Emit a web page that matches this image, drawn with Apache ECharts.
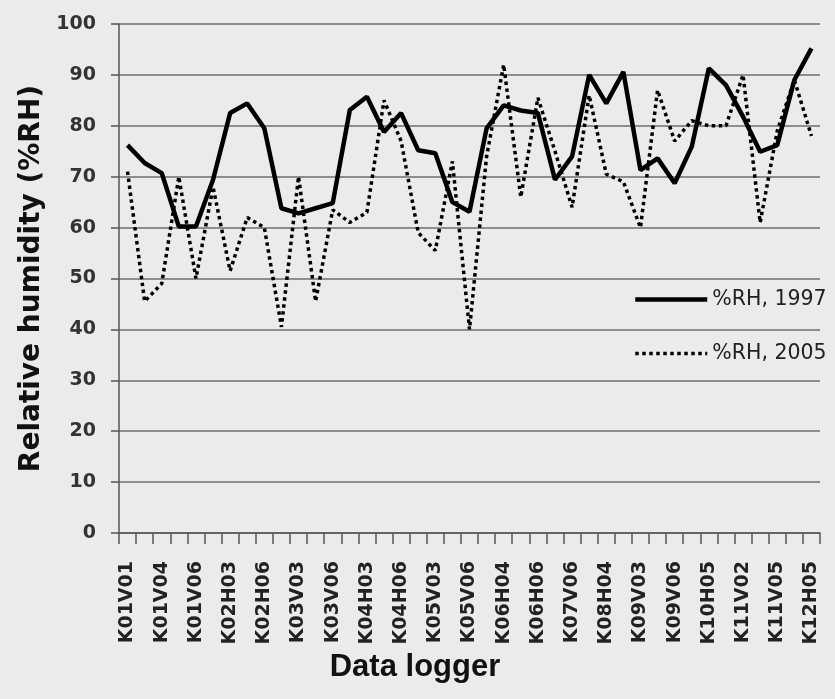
<!DOCTYPE html>
<html>
<head>
<meta charset="utf-8">
<script src="https://cdn.jsdelivr.net/npm/echarts@6/dist/echarts.min.js"></script>
<style>
  html, body { margin: 0; padding: 0; background: #ebebeb; }
  #chart { width: 835px; height: 699px; }
</style>
</head>
<body>
<div id="chart"></div>
<script>
// Data loggers (every second one is labelled on the axis)
const categories = [
  'K01V01','K01V03','K01V04','K01V05','K01V06','K02H01','K02H03','K02H04','K02H06','K03V01',
  'K03V03','K03V05','K03V06','K04H01','K04H03','K04H04','K04H06','K05V01','K05V03','K05V04',
  'K05V06','K06H01','K06H04','K06H05','K06H06','K07V03','K07V06','K08H01','K08H04','K09V01',
  'K09V03','K09V05','K09V06','K10H01','K10H05','K10H06','K11V02','K11V04','K11V05','K12H02',
  'K12H05'
];
const rh1997 = [
  76.2, 72.7, 70.7, 60.2, 60.2, 69.4, 82.5, 84.4, 79.5, 63.8,
  62.8, 63.8, 64.8, 83.1, 85.7, 78.8, 82.5, 75.2, 74.6, 65.0,
  63.1, 79.5, 84.0, 83.0, 82.5, 69.4, 74.0, 90.0, 84.4, 90.6,
  71.3, 73.6, 68.7, 75.9, 91.3, 88.0, 81.8, 74.9, 76.2, 89.0,
  95.2
];
const rh2005 = [
  71.0, 45.5, 49.0, 70.0, 50.0, 68.0, 51.5, 62.0, 60.0, 40.5,
  70.0, 45.5, 63.5, 61.0, 63.0, 85.0, 77.0, 59.0, 55.5, 73.0,
  40.0, 74.0, 92.0, 66.0, 85.5, 75.0, 64.0, 86.0, 70.5, 69.0,
  60.0, 87.0, 77.0, 81.0, 80.0, 80.0, 90.0, 61.0, 79.0, 89.0,
  78.0
];
const yTicks = { min: 0, max: 100, interval: 10 };
const seriesNames = ['%RH, 1997', '%RH, 2005'];

const chart = echarts.init(document.getElementById('chart'), null, { renderer: 'canvas' });
chart.setOption({
  backgroundColor: '#ebebeb',
  animation: false,
  grid: { left: 119, right: 15, top: 24, bottom: 166, containLabel: false },
  legend: {
    orient: 'vertical',
    left: 628,
    top: 284,
    padding: 5,
    itemWidth: 72,
    itemHeight: 14,
    itemGap: 33,
    itemStyle: { opacity: 0 },
    textStyle: { fontFamily: 'DejaVu Sans', fontSize: 20.5, color: '#222' },
    data: [
      { name: seriesNames[0], lineStyle: { width: 4.5 } },
      { name: seriesNames[1], lineStyle: { width: 3.5 } }
    ]
  },
  xAxis: {
    type: 'category',
    data: categories,
    boundaryGap: true,
    name: 'Data logger',
    nameLocation: 'middle',
    nameGap: 112,
    nameTextStyle: {
      fontFamily: 'Liberation Sans', fontWeight: 'bold', fontSize: 31, color: '#111',
      padding: [0, 109, 0, 0]
    },
    axisLine: { show: true, lineStyle: { color: '#555', width: 1.5 } },
    axisTick: { show: true, interval: 0, length: 11, lineStyle: { color: '#555', width: 1.5 } },
    axisLabel: {
      interval: 1,
      rotate: 90,
      margin: 28,
      fontFamily: 'DejaVu Sans', fontWeight: 'bold', fontSize: 19, color: '#222'
    },
    splitLine: { show: false }
  },
  yAxis: {
    type: 'value',
    min: yTicks.min,
    max: yTicks.max,
    interval: yTicks.interval,
    name: 'Relative humidity (%RH)',
    nameLocation: 'middle',
    nameGap: 63,
    nameTextStyle: { fontFamily: 'DejaVu Sans', fontWeight: 'bold', fontSize: 28, color: '#111' },
    axisLine: { show: true, lineStyle: { color: '#555', width: 1.5 } },
    axisTick: { show: true, length: 8, lineStyle: { color: '#555', width: 1.5 } },
    axisLabel: { margin: 23, fontFamily: 'DejaVu Sans', fontWeight: 'bold', fontSize: 19, color: '#333' },
    splitLine: { show: true, lineStyle: { color: '#6e6e6e', width: 1.5 } }
  },
  series: [
    {
      name: seriesNames[0],
      type: 'line',
      data: rh1997,
      symbol: 'none',
      lineStyle: { color: '#000', width: 4.5, type: 'solid' },
      itemStyle: { color: '#000' },
      z: 3
    },
    {
      name: seriesNames[1],
      type: 'line',
      data: rh2005,
      symbol: 'none',
      lineStyle: { color: '#000', width: 3.5, type: [3.5, 3.5], cap: 'butt' },
      itemStyle: { color: '#000' },
      z: 2
    }
  ]
});
</script>
</body>
</html>
